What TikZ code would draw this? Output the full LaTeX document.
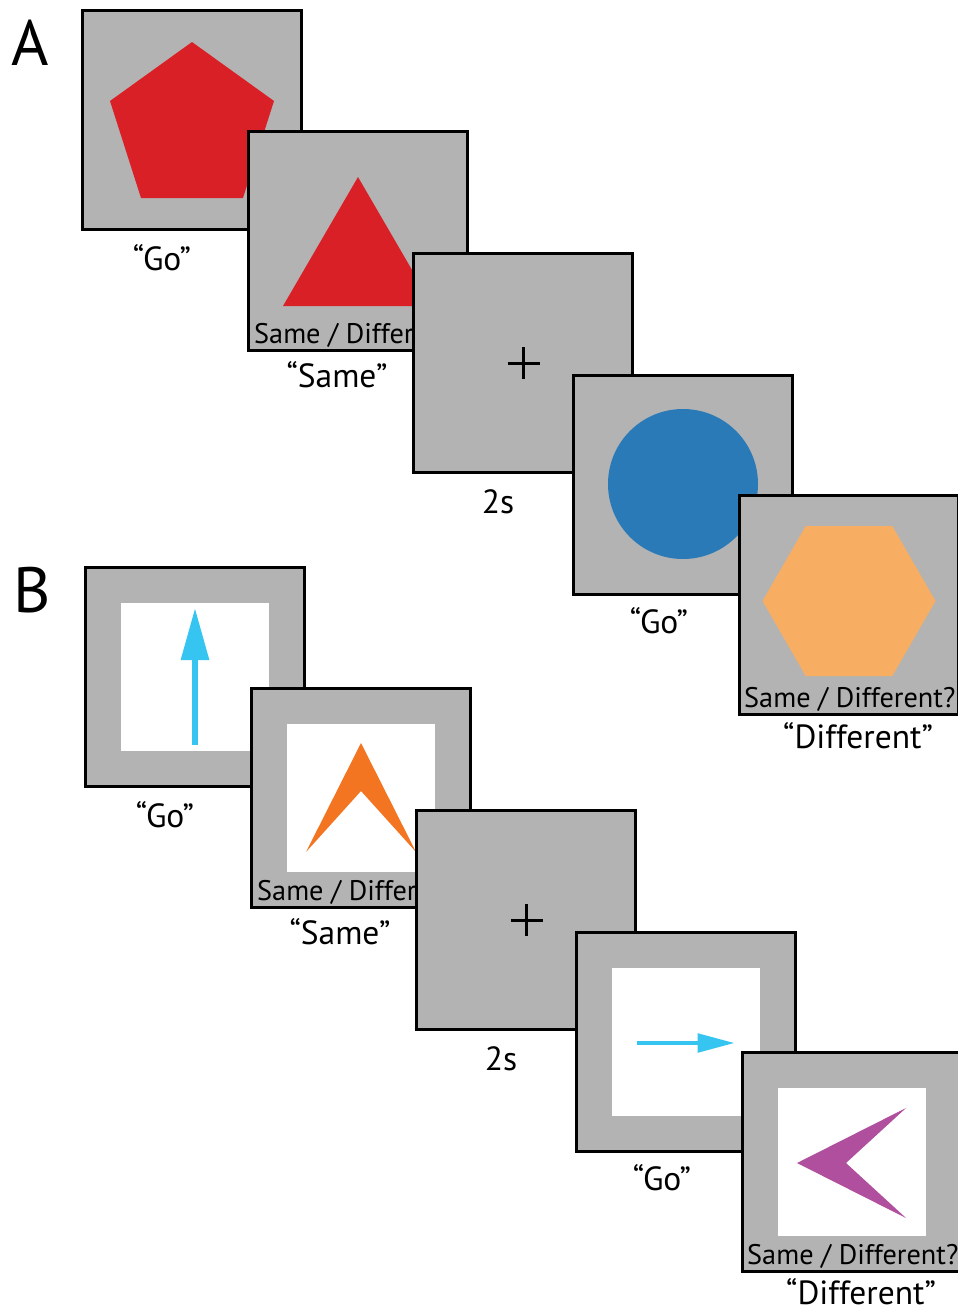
\documentclass[tikz,border=0pt]{standalone}
\usepackage{fontspec}
\setmainfont{PT Sans}
\usetikzlibrary{arrows.meta}
\definecolor{screengray}{HTML}{B3B3B3}
\definecolor{shapered}{HTML}{D92027}
\definecolor{shapeblue}{HTML}{2A7AB8}
\definecolor{shapeorange}{HTML}{F8AE62}
\definecolor{arrowcyan}{HTML}{36C5F1}
\definecolor{chevronorange}{HTML}{F37521}
\definecolor{chevronpurple}{HTML}{B14F9F}
\begin{document}
\begin{tikzpicture}[x=1pt,y=-1pt,
  screen/.style={draw,line width=3pt,fill=screengray,minimum size=219pt,inner sep=0pt},
  window/.style={fill=white,minimum size=148pt,inner sep=0pt},
  cue/.style={anchor=base,inner sep=0pt,font=\fontsize{33.5}{38}\selectfont},
  prompt/.style={anchor=base west,inner sep=0pt,font=\fontsize{28.3}{32}\selectfont},
  panel/.style={anchor=base west,inner sep=0pt,font=\fontsize{64}{70}\selectfont}]
\useasboundingbox (0,0) rectangle (958,1310);
\clip (0,0) rectangle (958,1310);

\node[panel] (pa) at (11,65) {A};
\node[screen] (a1) at (192,120) {};
\fill[shapered] (192,42) -- (274,101) -- (243,198) -- (141,198) -- (110,101) -- cycle;
\node[cue] (ca1) at (162,270) {“Go”};
\node[screen] (a2) at (358,241) {};
\fill[shapered] (358,177) -- (433,306) -- (283,306) -- cycle;
\node[prompt] (qa2) at (254,343) {Same / Different?};
\node[cue] (ca2) at (337,387) {“Same”};
\node[screen] (a3) at (523,363) {};
\draw[line width=3pt] (507.5,363) -- (539.5,363) (523.5,347) -- (523.5,379);
\node[cue] (ca3) at (498,513) {2s};
\node[screen] (a4) at (683,485) {};
\fill[shapeblue] (683,484) circle (75);
\node[cue] (ca4) at (659,633) {“Go”};
\node[screen] (a5) at (849,605) {};
\fill[shapeorange] (935.5,601) -- (892.25,526) -- (805.75,526) -- (762.5,601) -- (805.75,676) -- (892.25,676) -- cycle;
\node[prompt] (qa5) at (744,707) {Same / Different?};
\node[cue] (ca5) at (858,748) {“Different”};

\node[panel] (pb) at (13,612) {B};
\begin{scope}[shift={(3,557)}]
\node[screen] (b1) at (192,120) {};
\node[window] (w1) at (192,120) {};
\draw[arrowcyan,line width=6pt,-{Triangle[length=52pt,width=27pt]}] (192,188) -- (192,51);
\node[cue] (cb1) at (162,270) {“Go”};
\node[screen] (b2) at (358,241) {};
\node[window] (w2) at (358,241) {};
\fill[chevronorange] (358,186) -- (413,295) -- (358,234) -- (303,295) -- cycle;
\node[prompt] (qb2) at (254,343) {Same / Different?};
\node[cue] (cb2) at (337,387) {“Same”};
\node[screen] (b3) at (523,363) {};
\draw[line width=3pt] (507.5,363) -- (539.5,363) (523.5,347) -- (523.5,379);
\node[cue] (cb3) at (498,513) {2s};
\node[screen] (b4) at (683,485) {};
\node[window] (w4) at (683,485) {};
\draw[arrowcyan,line width=4pt,-{Triangle[length=37pt,width=18.5pt]}] (634,486) -- (731.5,486);
\node[cue] (cb4) at (659,633) {“Go”};
\node[screen] (b5) at (849,605) {};
\node[window] (w5) at (849,605) {};
\fill[chevronpurple] (794,606) -- (903,551) -- (843,606) -- (903,661) -- cycle;
\node[prompt] (qb5) at (744,707) {Same / Different?};
\node[cue] (cb5) at (858,747) {“Different”};
\end{scope}
\end{tikzpicture}
\end{document}
